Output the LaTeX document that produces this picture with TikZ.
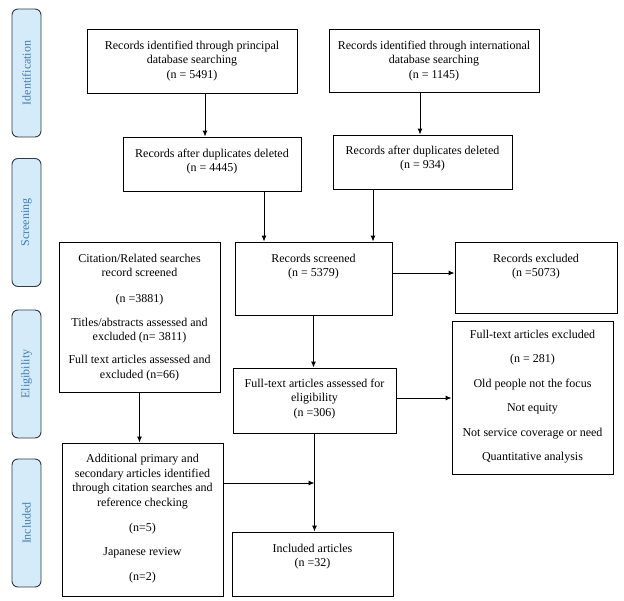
\documentclass[tikz,border=0pt]{standalone}
\usepackage{fontspec}
\setmainfont{Liberation Serif}
\usetikzlibrary{arrows.meta}
\definecolor{sidefill}{HTML}{D6EBFA}
\definecolor{sidetext}{HTML}{3F7DB5}
\definecolor{sidedraw}{HTML}{2E3A46}
\newcommand\firststrut{\rule{0pt}{9pt}}
\begin{document}
\begin{tikzpicture}[x=1pt,y=-1pt,
  box/.style={draw=black,line width=0.9pt,rectangle,inner sep=0pt},
  txt/.style={anchor=north,align=center,inner sep=0pt,font=\fontsize{12}{14.5}\selectfont},
  side/.style={draw=sidedraw,line width=0.9pt,fill=sidefill,rounded corners=6pt,rotate=90,
    minimum width=128pt,minimum height=29pt,inner sep=0pt,text=sidetext,font=\fontsize{12}{14}\selectfont},
  arr/.style={line width=0.9pt,-{Latex[length=6pt,width=5pt]}}]
\useasboundingbox (0,0) rectangle (624,600);
\fill[white] (0,0) rectangle (624,600);
% side bars
\node[side] (sid) at (26.5,73) {Identification};
\node[side] (sscr) at (26.5,222.5) {Screening};
\node[side] (selig) at (26.5,374) {Eligibility};
\node[side] (sinc) at (26.5,523) {Included};
% boxes
\node[box,minimum width=210pt,minimum height=64pt] (b1) at (192,61) {};
\node[box,minimum width=210pt,minimum height=63pt] (b2) at (434,60.5) {};
\node[box,minimum width=178pt,minimum height=54pt] (b3) at (212,164) {};
\node[box,minimum width=179pt,minimum height=54pt] (b4) at (422.5,162) {};
\node[box,minimum width=157pt,minimum height=73pt] (scr) at (313.5,278.5) {};
\node[box,minimum width=162pt,minimum height=71pt] (exc) at (536,277.5) {};
\node[box,minimum width=161pt,minimum height=150pt] (cit) at (139.5,317) {};
\node[box,minimum width=163pt,minimum height=65pt] (ass) at (314.5,400.5) {};
\node[box,minimum width=161pt,minimum height=153pt] (fexc) at (532.5,397.5) {};
\node[box,minimum width=161pt,minimum height=153pt] (add) at (142.5,519.5) {};
\node[box,minimum width=161pt,minimum height=64pt] (inc) at (312.5,564) {};
% texts
\node[txt] (t1) at (192,40) {\firststrut Records identified through principal\\database searching\\(n = 5491)};
\node[txt] (t2) at (434,40) {\firststrut Records identified through international\\database searching\\(n = 1145)};
\node[txt] (t3) at (212,148) {\firststrut Records after duplicates deleted\\(n = 4445)};
\node[txt] (t4) at (422.5,145) {\firststrut Records after duplicates deleted\\(n = 934)};
\node[txt] (tscr) at (313.5,253) {\firststrut Records screened\\(n = 5379)};
\node[txt] (texc) at (536,253) {\firststrut Records excluded\\(n =5073)};
\node[txt] (tcit) at (139.5,253) {\firststrut Citation/Related searches\\record screened\\[11pt](n =3881)\\[9.5pt]Titles/abstracts assessed and\\excluded (n= 3811)\\[8.5pt]Full text articles assessed and\\excluded (n=66)};
\node[txt] (tass) at (314.5,378) {\firststrut Full-text articles assessed for\\eligibility\\(n =306)};
\node[txt] (tfexc) at (532.5,329) {\firststrut Full-text articles excluded\\[10pt](n = 281)\\[10pt]Old people not the focus\\[10pt]Not equity\\[10pt]Not service coverage or need\\[10pt]Quantitative analysis};
\node[txt,font=\fontsize{12}{14.8}\selectfont] (tadd) at (142.5,453) {\firststrut Additional primary and\\secondary articles identified\\through citation searches and\\reference checking\\[10pt](n=5)\\[9.5pt]Japanese review\\[10pt](n=2)};
\node[txt] (tinc) at (312.5,543) {\firststrut Included articles\\(n =32)};
% connectors
\draw[arr] ([xshift=13pt]b1.south) -- ([xshift=13pt]b1.south |- b3.north);
\draw[arr] ([xshift=-14pt]b2.south) -- ([xshift=-14pt]b2.south |- b4.north);
\draw[arr] ([xshift=52pt]b3.south) -- ([xshift=52pt]b3.south |- scr.north);
\draw[arr] ([xshift=-49.5pt]b4.south) -- ([xshift=-49.5pt]b4.south |- scr.north);
\draw[arr] ([yshift=5.5pt]scr.east) -- ([yshift=5.5pt]scr.east -| exc.west);
\draw[arr] (scr.south) -- (scr.south |- ass.north);
\draw[arr] ([yshift=2.5pt]ass.east) -- ([yshift=2.5pt]ass.east -| fexc.west);
\draw[arr] (cit.south) -- (cit.south |- add.north);
\draw[arr] (ass.south) -- (ass.south |- inc.north);
\draw[arr] ([yshift=36.5pt]add.east) -- ([yshift=36.5pt]add.east -| ass.south);
\end{tikzpicture}
\end{document}
